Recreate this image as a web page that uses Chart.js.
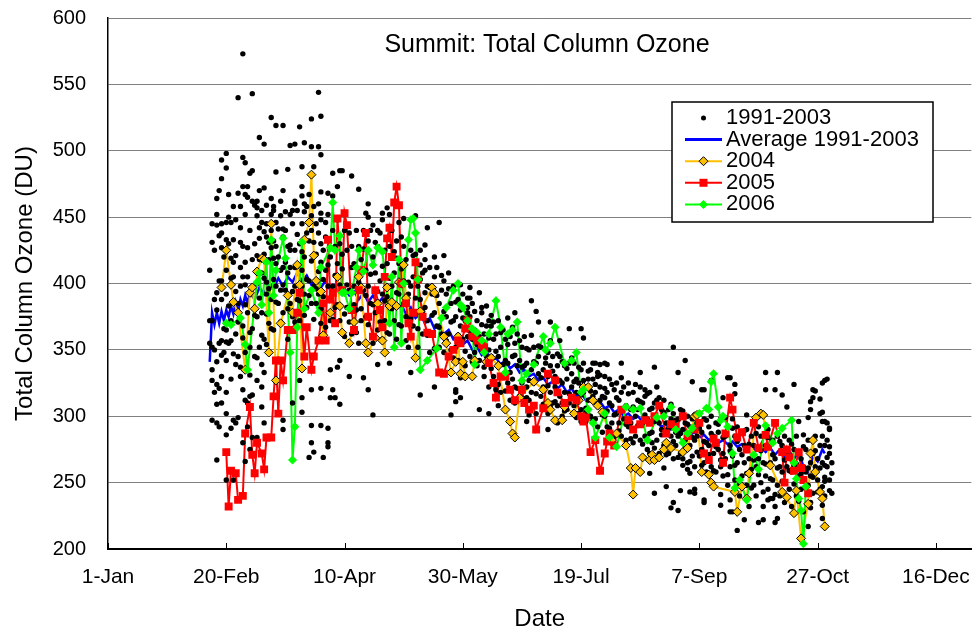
<!DOCTYPE html>
<html>
<head>
<meta charset="utf-8">
<script src="https://cdn.jsdelivr.net/npm/chart.js@4.4.1/dist/chart.umd.min.js"></script>
<style>
  body { margin: 0; background: #fff; }
  #ozoneChart { display: block; }
</style>
</head>
<body>
<canvas id="ozoneChart" width="977" height="632"></canvas>
<script>
// day of year (1-Jan = 0) and total column ozone (DU)
const tickDays = [0, 50, 100, 150, 200, 250, 300, 350];
const tickLabels = ['1-Jan', '20-Feb', '10-Apr', '30-May', '19-Jul', '7-Sep', '27-Oct', '16-Dec'];

const obs1991to2003 = [
    [57,573],[55,540],[61,543],[89,544],[90,526],[86,524],[69,525],[71,519],[74,519],[81,518],
    [64,510],[66,505],[77,504],[79,505],[83,506],[86,503],[89,503],[90,497],[50,498],[48,493],
    [57,495],[58,491],[50,487],[61,485],[60,483],[71,484],[76,486],[82,488],[87,488],[95,483],
    [98,485],[103,481],[48,479],[97,473],[57,473],[59,473],[47,470],[74,470],[82,473],[85,467],
    [46,464],[51,467],[55,468],[58,467],[59,465],[64,470],[66,472],[69,464],[82,466],[90,469],
    [93,468],[95,466],[61,462],[62,459],[63,457],[67,459],[70,458],[79,460],[79,462],[83,460],
    [89,460],[56,458],[65,455],[70,455],[78,455],[46,452],[51,450],[73,451],[75,454],[83,454],
    [46,444],[48,445],[50,446],[52,446],[54,448],[63,451],[65,446],[71,446],[77,452],[86,451],
    [88,445],[90,453],[92,446],[44,431],[48,438],[50,433],[53,433],[56,431],[64,434],[66,439],
    [69,440],[67,435],[68,431],[69,427],[74,435],[74,441],[77,425],[80,437],[84,438],[87,431],
    [90,430],[48,427],[50,410],[53,416],[58,416],[64,418],[71,415],[73,410],[76,408],[79,412],
    [82,410],[90,416],[52,404],[57,405],[58,399],[63,400],[67,401],[70,403],
    [46,393],[43,355],[45,350],[44,335],[44,327],[46,324],[47,321],[48,310],[46,309],[44,297],
    [46,295],[47,292],[50,302],[53,297],[52,291],[54,295],[55,299],[58,312],[57,320],[60,315],
    [61,316],[59,310],[63,284],[66,295],[65,307],[65,322],[63,327],[60,331],[56,330],[56,337],
    [54,339],[50,342],[48,346],[52,357],[50,356],[48,357],[50,365],[63,344],[65,339],[66,333],
    [67,354],[57,280],[59,292],[61,284],[58,266],[60,275],[53,252],[50,252],[50,286],[46,267],
    [74,290],[82,303],[82,314],[86,320],[86,293],[90,293],[93,291],[90,321],[94,314],[96,314],
    [98,309],[97,337],[98,342],[102,330],[93,280],[93,277],[87,273],[91,269],[85,269],[86,280],
    [74,297],[78,310],[81,327],[94,335],
    [99,485],[106,471],[110,460],[109,453],[110,450],[116,453],[119,452],[118,457],[112,444],
    [114,440],[116,448],[123,446],[125,449],[130,451],[135,442],[140,446],[134,429],[138,420],
    [142,421],[122,419],[120,420],[132,414],[134,410],[153,397],[153,389],[158,382],[152,382],
    [108,329],[110,320],[95,320],[114,339],[119,340],[128,333],[132,316],[147,320],[138,322],
    [149,329],[112,301],
    [179,387],[181,379],[172,378],[169,374],[162,376],[161,372],[182,371],[187,371],[191,357],
    [195,366],[200,366],[201,359],[206,340],[208,339],[211,339],[147,318],[149,314],[147,311],
    [145,301],[157,305],[161,302],[165,308],[172,310],[177,314],[178,301],[186,302],[187,307],
    [192,310],[198,302],[200,296],[202,303],[210,314],[190,295],[186,290],[177,296],
    [239,352],[244,342],[217,340],[225,333],[231,337],[205,340],[210,340],[207,333],[227,320],
    [232,322],[241,333],[247,326],[251,320],[262,329],[265,317],[260,314],[229,272],[233,269],
    [235,261],[243,263],[245,260],[246,257],[231,242],[236,247],[242,244],[246,243],[248,245],
    [239,235],[238,231],[241,229],[252,237],[248,242],[259,241],[263,237],[264,228],[229,257],
    [278,333],[283,333],[263,329],[265,324],[278,320],[282,320],[290,324],[285,316],[287,307],
    [298,320],[302,325],[303,327],[304,328],[297,311],[301,302],[303,296],[305,290],[270,301],
    [255,327],[252,320],[279,237],[281,238],[283,223],[282,220],[277,222],[275,220],[269,222],
    [266,214],[259,233],[263,228],[252,235],[296,217],[297,235],[302,223],
    [299,319],[298,314],[301,313],[297,305],[302,303],[296,299],[302,296],[304,295],[305,291],
    [292,296],[294,286],[305,277],[303,263],[303,254],[302,247],
    [44,372],[45,388],[47,355],[48,402],[49,366],[51,383],[52,419],[53,347],[54,394],[55,371],
    [56,412],[57,359],[58,384],[59,427],[60,363],[61,397],[62,376],[63,421],[64,389],[65,361],
    [66,404],[67,377],[68,396],[69,366],[70,419],[71,386],[72,441],[73,371],[74,399],[75,416],
    [76,381],[77,429],[78,394],[79,371],[80,413],[81,387],[82,424],[83,376],[84,403],[85,391],
    [86,417],[87,373],[88,396],[89,409],[90,381],[91,403],[92,367],[93,414],[94,389],[95,373],
    [96,406],[97,384],[98,399],[99,411],[100,377],
    [101,399],[102,371],[103,412],[104,384],[105,363],[106,401],[107,381],[108,426],[109,391],
    [110,369],[111,407],[112,384],[113,431],[114,394],[115,371],[116,413],[117,387],[118,363],
    [119,404],[120,381],[121,424],[122,393],[123,369],[124,411],[125,385],[126,357],[127,401],
    [128,374],[129,421],[130,389],[131,366],[132,403],[133,379],[134,393],[135,361],[136,397],
    [137,376],[138,351],[139,391],[140,367],[141,406],[142,379],[143,357],[144,396],[145,371],
    [146,344],[147,386],[148,361],[149,399],[150,374],[151,349],[152,389],[153,364],[154,341],
    [155,379],[156,354],[157,393],[158,369],[159,337],[160,383],
    [161,359],[162,336],[163,371],[164,349],[165,324],[166,363],[167,339],[168,319],[169,354],
    [170,333],[171,367],[172,346],[173,321],[174,357],[175,337],[176,313],[177,351],[178,327],
    [179,361],[180,341],[181,317],[182,353],[183,329],[184,309],[185,344],[186,323],[187,357],
    [188,334],[189,311],[190,347],[191,327],[192,341],[193,304],[194,336],[195,317],[196,344],
    [197,326],[198,299],[199,337],[200,316],[201,327],[202,306],[203,334],[204,319],[205,297],
    [206,324],[207,309],[208,331],[209,301],[210,321],
    [211,304],[212,291],[213,324],[214,301],[215,314],[216,289],[217,329],[218,306],[219,294],
    [220,317],[221,283],[222,307],[223,324],[224,293],[225,311],[226,279],[227,301],[228,317],
    [229,287],[230,306],[231,276],[232,297],[233,314],[234,286],[235,303],[236,271],[237,291],
    [238,309],[239,281],[240,297],[241,269],[242,287],[243,304],[244,276],[245,294],[246,266],
    [247,284],[248,301],[249,273],[250,291],[251,263],[252,281],[253,297],[254,271],[255,287],
    [256,259],[257,277],[258,294],[259,267],[260,284],
    [261,299],[262,256],[263,274],[264,291],[265,263],[266,281],[267,249],[268,271],[269,289],
    [270,257],[271,279],[272,246],[273,267],[274,287],[275,256],[276,274],[277,243],[278,264],
    [279,284],[280,253],[281,271],[282,241],[283,261],[284,281],[285,251],[286,267],[287,239],
    [288,259],[289,279],[290,249],[291,264],[292,236],[293,257],[294,277],[295,246],[296,261],
    [297,231],[298,254],[299,274],[300,243],[301,261],[302,233],[303,251],[304,269],[305,244],
    [306,257],
    [43,372],[43,410],[44,352],[44,445],[45,318],[45,425],[46,380],[46,341],[47,402],[47,436],
    [48,330],[48,388],[49,420],[49,348],[50,392],[50,318],[51,355],[51,430],[52,372],[52,328],
    [53,405],[53,458],[54,362],[54,421],[55,385],[55,345],[56,398],[56,442],[57,368],[57,428],
    [58,348],[58,452],[59,378],[59,405],[60,440],[60,352],[61,418],[61,366],[62,430],[62,345],
    [63,375],[63,462],[64,352],[64,442],[65,408],[65,378],[66,422],[66,358],[67,445],[67,392],
    [68,418],[68,370],[69,452],[69,388],[70,432],[70,365],[71,398],[71,428],[72,420],[72,385],
    [73,395],[73,462],[74,412],[74,378],[75,440],[75,395],[76,428],[76,358],[77,412],[77,385],
    [78,445],[78,375],[79,425],[79,398],[80,455],[80,388],[81,430],[81,372],[82,398],[82,445],
    [83,420],[83,392],[84,458],[84,382],[85,432],[85,402],[86,385],[86,440],[87,458],[87,398],
    [88,422],[88,385],[89,438],[89,392],[90,448],[90,370],[91,425],[91,390],[92,435],[92,410],
    [93,398],[93,452],[94,420],[94,372],[95,440],[95,398],[96,428],[96,382],[97,415],[97,448],
    [98,430],[98,372],[99,422],[99,395],[100,440],[100,360],
    [101,425],[101,382],[102,438],[102,395],[103,362],[103,428],[104,415],[104,398],[105,440],
    [105,380],[106,355],[106,428],[107,418],[107,372],[108,395],[108,440],[109,410],[109,375],
    [110,432],[110,398],[111,385],[111,440],[112,420],[112,355],[113,408],[113,378],[114,428],
    [114,365],[115,402],[115,438],[116,392],[116,358],[117,425],[117,372],[118,415],[118,390],
    [119,428],[119,362],[120,398],[120,440],[121,372],[121,408],[122,432],[122,358],[123,415],
    [123,392],[124,435],[124,368],[125,402],[125,428],[126,375],[126,418],[127,392],[127,352],
    [128,425],[128,398],[129,368],[129,405],[130,422],[130,378],[131,398],[131,352],[132,388],
    [132,425],[133,362],[133,408],[134,382],[134,418],[135,398],[135,372],[136,412],[136,348],
    [137,392],[137,362],[138,405],[138,378],[139,368],[139,412],[140,385],[140,352],[141,395],
    [141,362],[142,402],[142,348],[143,375],[143,392],[144,362],[144,408],[145,385],[145,350],
    [146,372],[146,398],[147,352],[147,375],[148,388],[148,342],[149,368],[149,380],[150,358],
    [150,392],[151,372],[151,338],[152,360],[152,378],[153,345],[153,375],[154,358],[154,385],
    [155,348],[155,365],[156,372],[156,338],[157,360],[157,342],[158,378],[158,350],[159,362],
    [159,330],[160,345],[160,368],
    [161,350],[161,322],[162,368],[162,345],[163,330],[163,358],[164,362],[164,320],[165,345],
    [165,372],[166,318],[166,352],[167,365],[167,330],[168,342],[168,358],[169,325],[169,340],
    [170,360],[170,312],[171,345],[171,328],[172,355],[172,322],[173,338],[173,362],[174,315],
    [174,342],[175,352],[175,325],[176,338],[176,360],[177,322],[177,340],[178,312],[178,350],
    [179,335],[179,318],[180,352],[180,325],[181,340],[181,302],[182,332],[182,345],[183,315],
    [183,352],[184,335],[184,322],[185,305],[185,340],[186,330],[186,348],[187,318],[187,338],
    [188,345],[188,310],[189,330],[189,322],[190,338],[190,308],[191,345],[191,315],[192,325],
    [192,300],[193,338],[193,318],[194,328],[194,305],[195,340],[195,310],[196,322],[196,332],
    [197,308],[197,340],[198,318],[198,328],[199,302],[199,325],[200,335],[200,305],[201,318],
    [201,340],[202,322],[202,296],[203,312],[203,328],[204,300],[204,335],[205,315],[205,328],
    [206,298],[206,318],[207,330],[207,292],[208,312],[208,322],[209,288],[209,315],[210,330],
    [210,300],
    [211,318],[211,292],[212,310],[212,328],[213,295],[213,308],[214,320],[214,285],[215,302],
    [215,325],[216,295],[216,312],[217,285],[217,318],[218,298],[218,322],[219,308],[219,282],
    [220,292],[220,325],[221,305],[221,295],[222,318],[222,280],[223,300],[223,285],[224,312],
    [224,305],[225,282],[225,322],[226,295],[226,310],[227,285],[227,315],[228,298],[228,275],
    [229,305],[229,318],[230,288],[230,280],[231,310],[231,296],[232,282],[232,312],[233,295],
    [233,272],[234,305],[234,290],[235,312],[235,278],[236,295],[236,288],[237,305],[237,272],
    [238,285],[238,298],[239,268],[239,302],[240,288],[240,278],[241,298],[241,285],[242,272],
    [242,305],[243,290],[243,268],[244,295],[244,282],[245,265],[245,300],[246,278],[246,292],
    [247,270],[247,298],[248,282],[248,262],[249,295],[249,285],[250,270],[250,302],[251,288],
    [251,275],[252,265],[252,298],[253,280],[253,258],[254,292],[254,278],[255,262],[255,300],
    [256,285],[256,272],[257,295],[257,258],[258,275],[258,288],[259,262],[259,298],[260,272],
    [260,255],
    [261,285],[261,268],[262,292],[262,248],[263,278],[263,262],[264,270],[264,298],[265,252],
    [265,285],[266,265],[266,292],[267,275],[267,240],[268,288],[268,255],[269,265],[269,278],
    [270,248],[270,290],[271,268],[271,232],[272,285],[272,260],[273,248],[273,278],[274,262],
    [274,240],[275,292],[275,268],[276,250],[276,285],[277,265],[277,232],[278,278],[278,255],
    [279,245],[279,290],[280,265],[280,238],[281,282],[281,252],[282,268],[282,232],[283,248],
    [283,285],[284,262],[284,240],[285,278],[285,258],[286,235],[286,285],[287,262],[287,272],
    [288,245],[288,282],[289,258],[289,232],[290,275],[290,262],[291,240],[291,285],[292,255],
    [292,272],[293,245],[293,268],[294,262],[294,228],[295,275],[295,258],[296,248],[296,282],
    [297,265],[297,255],[298,242],[298,272],[299,262],[299,285],[300,252],[300,268],[301,278],
    [301,245],[302,265],[302,285],[303,240],[303,278],[304,262],[304,282],[305,252],[305,272],
    [306,265],[306,242]
];

const avg1991to2003 = [
    [43,341],[44,378],[45,369],[46,378],[47,370],[48,379],[49,372],[50,380],[51,375],[52,383],
    [53,377],[54,386],[55,379],[56,388],[57,383],[58,391],[59,385],[60,393],[62,388],[64,397],
    [66,392],[68,401],[70,396],[72,404],[74,398],[76,405],[78,401],[80,408],[82,402],[84,406],
    [86,399],[88,404],[90,397],[92,402],[94,395],[96,399],[98,392],[100,396],[102,391],[104,394],
    [106,388],[108,393],[110,386],[112,391],[114,385],[116,389],[118,383],[120,387],[122,381],
    [124,384],[126,377],[128,382],[130,374],[132,377],[134,370],[136,374],[138,366],[140,369],
    [142,362],[144,365],[146,358],[148,361],[150,354],[152,357],[154,350],[156,352],[158,346],
    [160,349],[162,342],[164,344],[166,339],[168,342],[170,336],[172,339],[174,333],[176,335],
    [178,330],[180,332],[182,327],[184,329],[186,324],[188,326],[190,321],[192,324],[194,318],
    [196,321],[198,315],[200,318],[202,312],[204,314],[206,309],[208,311],[210,306],[212,308],
    [214,303],[216,305],[218,300],[220,302],[222,298],[224,300],[226,296],[228,298],[230,294],
    [232,296],[234,292],[236,294],[238,290],[240,292],[242,288],[244,290],[246,286],[248,288],
    [250,284],[252,286],[254,282],[256,284],[258,280],[260,282],[262,279],[264,281],[266,277],
    [268,279],[270,276],[272,278],[274,274],[276,277],[278,273],[280,276],[282,271],[284,275],
    [286,269],[288,274],[290,268],[292,273],[294,262],[296,257],[298,270],[300,266],[302,275],
    [303,272]
];

const ozone2004 = [
    [48,397],[50,425],[52,399],[53,386],[55,378],[58,335],[60,393],[61,397],[62,381],[63,409],
    [65,419],[66,418],[68,348],[69,445],[71,327],[73,370],[76,391],[78,378],[80,414],[81,399],
    [82,336],[83,433],[85,446],[86,482],[87,421],[88,402],[90,394],[91,361],[94,378],[97,405],
    [98,383],[99,363],[102,355],[104,371],[106,405],[107,397],[109,355],[110,348],[113,359],
    [114,385],[116,357],[117,348],[118,397],[119,383],[120,386],[122,383],[123,401],[124,400],
    [125,414],[126,389],[130,344],[132,379],[137,397],[138,393],[142,360],[143,355],[145,333],
    [147,341],[148,360],[149,332],[150,341],[151,330],[154,330],[155,342],[160,341],[162,344],
    [165,338],[168,305],[170,296],[171,287],[172,284],[174,314],[180,326],[184,320],[186,310],
    [187,305],[189,297],[192,297],[193,307],[197,302],[199,312],[201,322],[203,322],[205,312],
    [207,308],[209,303],[213,282],[215,287],[219,278],[221,261],[222,241],[223,261],[225,258],
    [226,269],[229,267],[230,271],[231,267],[233,269],[235,275],[236,280],[238,276],[243,273],
    [245,276],[248,300],[249,301],[251,258],[254,256],[255,250],[256,247],[265,243],[266,228],
    [268,247],[270,238],[271,257],[274,299],[276,302],[277,301],[280,263],[285,243],[287,239],
    [290,227],[291,244],[293,208],[296,234],[297,272],[298,282],[299,258],[301,243],[302,238],
    [303,217]
];

const ozone2005 = [
    [50,273],[51,232],[52,259],[54,257],[55,237],[57,240],[58,287],[60,307],[61,271],[62,257],
    [63,280],[65,272],[66,260],[67,284],[69,284],[70,315],[71,342],[72,302],[73,342],[74,327],
    [76,365],[78,365],[80,378],[81,393],[83,345],[84,367],[86,335],[87,345],[89,357],[91,385],
    [92,357],[93,433],[94,388],[95,393],[96,370],[97,449],[99,395],[100,453],[101,444],[103,380],
    [104,365],[106,395],[107,410],[109,438],[110,375],[112,360],[113,395],[115,380],[116,367],
    [117,405],[118,434],[119,442],[120,420],[121,461],[122,473],[123,459],[124,400],[126,385],
    [127,370],[128,360],[129,378],[130,416],[131,403],[133,375],[135,363],[137,362],[140,333],
    [142,332],[144,345],[146,350],[148,357],[149,355],[151,366],[152,372],[154,360],[156,357],
    [158,354],[159,352],[161,340],[163,325],[164,314],[166,330],[168,330],[170,320],[172,312],
    [175,320],[176,310],[178,305],[180,308],[181,290],[184,306],[186,332],[189,327],[190,318],
    [193,310],[196,314],[198,312],[200,300],[201,296],[202,299],[204,273],[206,282],[208,259],
    [210,272],[211,281],[212,287],[214,278],[217,305],[220,297],[222,290],[225,294],[227,297],
    [229,295],[231,300],[233,308],[236,287],[238,294],[240,292],[243,300],[245,285],[248,290],
    [250,295],[252,272],[254,267],[256,283],[257,280],[260,265],[261,287],[263,314],[264,305],
    [266,284],[268,288],[270,275],[273,295],[275,276],[278,286],[279,277],[282,295],[285,273],
    [286,250],[287,275],[288,269],[290,259],[292,273],[293,261],[294,252],[296,242]
];

const ozone2006 = [
    [50,370],[52,369],[56,374],[58,354],[59,335],[63,401],[64,408],[65,384],[67,416],[68,378],
    [69,433],[70,391],[71,410],[74,434],[75,419],[77,348],[78,267],[79,292],[80,367],[82,431],
    [83,381],[86,395],[89,378],[90,412],[94,427],[95,461],[96,425],[98,436],[99,393],[100,393],
    [102,381],[103,393],[105,412],[106,425],[108,409],[110,425],[112,414],[114,427],[116,424],
    [119,370],[120,405],[121,352],[123,418],[124,355],[125,400],[127,433],[128,448],[129,449],
    [130,438],[131,403],[132,335],[135,342],[139,351],[141,374],[143,382],[146,395],[148,400],
    [149,384],[150,382],[152,372],[154,366],[155,339],[156,363],[158,357],[159,348],[161,362],
    [164,387],[166,367],[168,333],[169,362],[171,365],[173,371],[175,327],[177,332],[180,339],
    [184,360],[185,350],[187,355],[189,367],[193,340],[196,342],[198,348],[200,318],[201,320],
    [203,305],[205,295],[206,284],[210,302],[212,284],[215,277],[219,307],[222,305],[225,306],
    [228,282],[232,299],[235,300],[238,307],[240,290],[243,280],[245,287],[247,291],[250,302],
    [253,306],[254,305],[255,326],[256,332],[258,307],[259,297],[260,300],[262,292],[264,272],
    [265,246],[267,252],[270,237],[273,271],[275,260],[278,293],[281,280],[283,287],[285,291],
    [289,297],[290,265],[291,253],[292,238],[293,229],[294,204],[295,247]
];

const FONT = '"Liberation Sans", Arial, sans-serif';
const GOLD = '#FFC000';
const toXY = arr => arr.map(p => ({ x: p[0], y: p[1] }));

// Excel-like inner tick marks on the date axis
const innerTicks = {
    id: 'innerTicks',
    afterDraw(chart) {
        const { ctx, chartArea, scales } = chart;
        ctx.save();
        ctx.strokeStyle = '#000';
        ctx.lineWidth = 1;
        tickDays.forEach(d => {
            const x = Math.round(scales.x.getPixelForValue(d)) + 0.5;
            ctx.beginPath();
            ctx.moveTo(x, chartArea.bottom);
            ctx.lineTo(x, chartArea.bottom - 6);
            ctx.stroke();
        });
        ctx.restore();
    }
};

// title sits inside the plot area
const innerTitle = {
    id: 'innerTitle',
    afterDraw(chart) {
        const ctx = chart.ctx;
        ctx.save();
        ctx.fillStyle = '#000';
        ctx.font = '25px ' + FONT;
        ctx.textAlign = 'center';
        ctx.textBaseline = 'middle';
        ctx.fillText('Summit: Total Column Ozone', 547, 45);
        ctx.restore();
    }
};

function drawDiamond(ctx, x, y, r, fill, stroke) {
    ctx.beginPath();
    ctx.moveTo(x, y - r);
    ctx.lineTo(x + r, y);
    ctx.lineTo(x, y + r);
    ctx.lineTo(x - r, y);
    ctx.closePath();
    ctx.fillStyle = fill;
    ctx.fill();
    if (stroke) {
        ctx.strokeStyle = stroke;
        ctx.lineWidth = 1;
        ctx.stroke();
    }
}

const boxLegend = {
    id: 'boxLegend',
    afterDraw(chart) {
        const ctx = chart.ctx;
        const bx = 672, by = 102, bw = 261, bh = 120;
        const rows = [
            { text: '1991-2003', kind: 'dot' },
            { text: 'Average 1991-2003', kind: 'line', color: '#0000FF', width: 3 },
            { text: '2004', kind: 'diamond', color: GOLD },
            { text: '2005', kind: 'square', color: '#FF0000' },
            { text: '2006', kind: 'greenDiamond', color: '#00FF00' }
        ];
        ctx.save();
        ctx.fillStyle = '#fff';
        ctx.fillRect(bx, by, bw, bh);
        ctx.strokeStyle = '#000';
        ctx.lineWidth = 1.5;
        ctx.strokeRect(bx, by, bw, bh);
        ctx.font = '22px ' + FONT;
        ctx.textBaseline = 'middle';
        rows.forEach((r, i) => {
            const y = 118 + i * 21.6;
            const x0 = 685, x1 = 722, xm = 703.5;
            if (r.kind !== 'dot') {
                ctx.strokeStyle = r.color;
                ctx.lineWidth = r.width || 2;
                ctx.beginPath();
                ctx.moveTo(x0, y);
                ctx.lineTo(x1, y);
                ctx.stroke();
            }
            if (r.kind === 'dot') {
                ctx.fillStyle = '#000';
                ctx.beginPath();
                ctx.arc(xm, y, 2.5, 0, Math.PI * 2);
                ctx.fill();
            } else if (r.kind === 'diamond') {
                drawDiamond(ctx, xm, y, 4.5, GOLD, '#000');
            } else if (r.kind === 'square') {
                ctx.fillStyle = r.color;
                ctx.fillRect(xm - 4, y - 4, 8, 8);
            } else if (r.kind === 'greenDiamond') {
                drawDiamond(ctx, xm, y, 4.5, r.color, null);
            }
            ctx.fillStyle = '#000';
            ctx.textAlign = 'left';
            ctx.fillText(r.text, 726, y);
        });
        ctx.restore();
    }
};

const lineSet = (data, color, width, order) => ({
    data: toXY(data),
    showLine: true,
    borderColor: color,
    borderWidth: width,
    pointRadius: 0,
    tension: 0,
    order: order
});

// keep the plot area exactly where the reference has it
const noScalePadding = scale => {
    scale.paddingTop = 0;
    scale.paddingBottom = 0;
    scale.paddingLeft = 0;
    scale.paddingRight = 0;
};

new Chart(document.getElementById('ozoneChart'), {
    type: 'scatter',
    data: {
        datasets: [
            // markers, top to bottom
            { label: '2006', data: toXY(ozone2006), pointStyle: 'rectRot', pointRadius: 4.5,
              backgroundColor: '#00FF00', borderColor: '#00FF00', borderWidth: 0, order: 0 },
            { label: '2005', data: toXY(ozone2005), pointStyle: 'rect', pointRadius: 5.6,
              backgroundColor: '#FF0000', borderColor: '#FF0000', borderWidth: 0, order: 1 },
            { label: '2004', data: toXY(ozone2004), pointStyle: 'rectRot', pointRadius: 4.5,
              backgroundColor: GOLD, borderColor: '#000', borderWidth: 1, order: 2 },
            { label: '1991-2003', data: toXY(obs1991to2003), pointStyle: 'circle', pointRadius: 2.7,
              backgroundColor: '#000', borderWidth: 0, order: 3 },
            // connecting lines underneath all markers
            lineSet(ozone2006, '#00FF00', 2, 4),
            lineSet(ozone2005, '#FF0000', 2, 5),
            lineSet(ozone2004, GOLD, 2, 6),
            lineSet(avg1991to2003, '#0000FF', 2.5, 7)
        ]
    },
    options: {
        responsive: false,
        animation: false,
        devicePixelRatio: 1,
        layout: { padding: { top: 18, right: 0, left: 0, bottom: 0 } },
        plugins: {
            legend: { display: false },
            tooltip: { enabled: false }
        },
        scales: {
            x: {
                type: 'linear',
                min: 0,
                max: 365,
                afterBuildTicks: scale => {
                    scale.ticks = tickDays.map(v => ({ value: v }));
                },
                afterFit: scale => { scale.height = 83; noScalePadding(scale); },
                ticks: {
                    autoSkip: false,
                    maxRotation: 0,
                    padding: 16,
                    color: '#000',
                    font: { family: FONT, size: 21 },
                    callback: v => tickLabels[tickDays.indexOf(v)]
                },
                grid: { drawOnChartArea: false, drawTicks: false },
                border: { color: '#000', width: 2 },
                title: {
                    display: true,
                    text: 'Date',
                    color: '#000',
                    font: { family: FONT, size: 24, lineHeight: 1 },
                    padding: { top: 0, bottom: 1 }
                }
            },
            y: {
                min: 200,
                max: 600,
                afterFit: scale => { scale.width = 108; noScalePadding(scale); },
                ticks: {
                    stepSize: 50,
                    padding: 22,
                    color: '#000',
                    font: { family: FONT, size: 20 }
                },
                grid: { color: '#808080', lineWidth: 1, drawTicks: false },
                border: { color: '#000', width: 1.5 },
                title: {
                    display: true,
                    text: 'Total Column Ozone (DU)',
                    color: '#000',
                    font: { family: FONT, size: 24, lineHeight: 1 },
                    padding: { top: 13, bottom: 0 }
                }
            }
        }
    },
    plugins: [innerTicks, innerTitle, boxLegend]
});
</script>
</body>
</html>
